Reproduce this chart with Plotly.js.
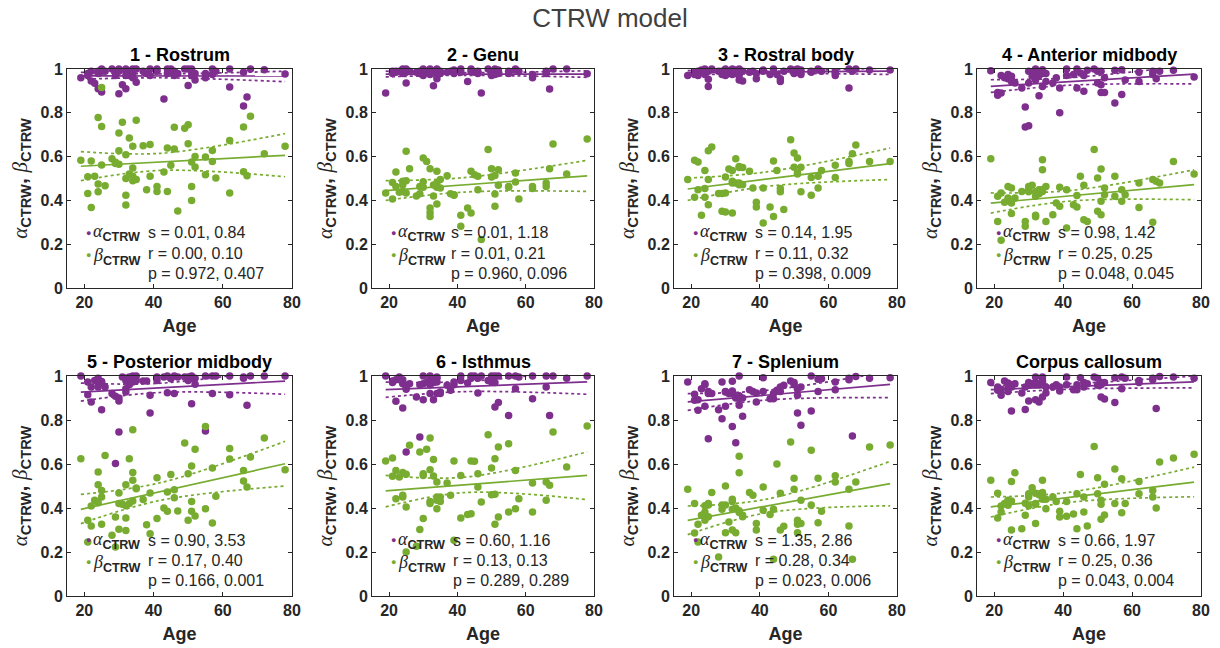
<!DOCTYPE html>
<html><head><meta charset="utf-8">
<script src="https://cdn.plot.ly/plotly-3.0.1.min.js"></script>
<style>body{margin:0;background:#fff}#chart{width:1220px;height:648px}</style>
</head><body><div id="chart"></div>
<script>
// ---- data ----
const ages = [19,21,21,22,22,23,24,24,24,25,25,25,26,28,29,29,30,30,30,31,32,32,32,32,33,33,34,34,34,34,35,35,37,38,39,39,41,41,43,44,44,45,46,46,47,49,50,50,51,51,51,52,52,55,55,57,57,58,62,62,66,66,67,68,72,78];

const alpha1 = [0.96, 0.98,0.97, 0.945,0.99, 0.935, 0.91,0.99,0.98, 0.895,0.99,1.0, 0.99, 1.0, 0.99,0.97, 0.887,0.99,1.0, 0.928, 0.91,0.99,0.97,1.0, 0.97,0.99, 1.0,0.98,0.96,0.99, 0.94,1.0, 0.99, 0.98, 1.0,0.97, 0.99,1.0, 0.863, 1.0,0.98, 1.0, 0.99,0.97, 0.98, 1.0, 0.925,1.0, 0.99,0.97,1.0, 0.95,0.98, 0.96,0.98, 1.0,0.975, 0.99, 0.918,1.0, 0.831,0.985, 0.872, 1.0, 0.997, 0.977];
const beta1 = [0.583, 0.508,0.432, 0.368,0.58, 0.51, 0.779,0.475,0.44, 0.737,0.562,0.916, 0.467, 0.59, 0.574,0.568, 0.708,0.627,0.565, 0.757, 0.609,0.5,0.423,0.379, 0.685,0.52, 0.647,0.548,0.51,0.49, 0.766,0.495, 0.65, 0.449, 0.655,0.51, 0.464,0.441, 0.53, 0.639,0.441, 0.56, 0.734,0.635, 0.352, 0.73, 0.746,0.659, 0.575,0.464,0.4, 0.601,0.552, 0.598,0.517, 0.628,0.578, 0.502, 0.674,0.434, 0.735,0.531, 0.513, 0.784, 0.613, 0.647];

const alpha2 = [0.89, 0.98,0.99, 0.99,0.985, 0.99, 0.98,1.0,0.99, 0.936,0.985,1.0, 0.99, 0.985, 0.99,0.98, 1.0,0.985,0.97, 0.99, 1.0,0.98,0.995,0.975, 0.924,0.99, 0.955,1.0,0.985,0.97, 0.99,0.98, 0.985, 0.99, 0.98,0.995, 1.0,0.985, 0.943, 0.99,1.0, 0.985, 0.98,0.99, 0.89, 1.0, 0.985,0.97, 1.0,0.99,0.975, 0.995,0.98, 0.98,0.99, 1.0,0.995, 0.99, 0.96,0.975, 0.98,0.99, 0.909, 1.0, 1.0, 0.978];
const beta2 = [0.434, 0.406,0.482, 0.53,0.464, 0.437, 0.487,0.441,0.47, 0.624,0.434,0.49, 0.545, 0.42, 0.464,0.43, 0.594,0.485,0.46, 0.578, 0.545,0.365,0.345,0.327, 0.42,0.47, 0.479,0.384,0.533,0.46, 0.457,0.495, 0.513, 0.43, 0.426,0.423, 0.332,0.282, 0.365, 0.342,0.533, 0.517, 0.51,0.449, 0.221, 0.632, 0.507,0.545, 0.514,0.429,0.373, 0.54,0.469, 0.464,0.46, 0.525,0.484, 0.406, 0.454,0.464, 0.479,0.464, 0.545, 0.658, 0.52, 0.68];

const alpha3 = [0.97, 0.985,0.975, 0.99,0.97, 0.995, 0.98,1.0,0.975, 0.92,0.953,0.99, 1.0, 0.99, 0.975,0.99, 0.985,1.0,0.97, 0.98, 1.0,0.99,0.975,0.985, 0.995,0.98, 0.95,0.99,1.0,0.97, 0.945,0.99, 0.985, 0.99, 0.955,0.98, 0.995,0.99, 0.975, 1.0,0.99, 0.975, 0.943,0.955, 0.99, 1.0, 0.995,0.98, 1.0,0.99,0.985, 0.975,0.995, 0.985,0.99, 1.0,0.995, 0.99, 0.97,0.985, 0.913,1.0, 0.99, 1.0, 0.995, 0.995];
const beta3 = [0.495, 0.583,0.414, 0.575,0.449, 0.332, 0.536,0.454,0.414, 0.627,0.495,0.38, 0.644, 0.431, 0.35,0.431, 0.347,0.434,0.507, 0.543, 0.342,0.487,0.536,0.48, 0.59,0.479, 0.55,0.472,0.555,0.48, 0.55,0.472, 0.533, 0.457, 0.391,0.37, 0.297,0.457, 0.37, 0.327,0.58, 0.536, 0.454,0.44, 0.358, 0.677, 0.616,0.551, 0.594,0.525,0.52, 0.551,0.44, 0.505,0.423, 0.51,0.457, 0.536, 0.56,0.505, 0.578,0.568, 0.613, 0.653, 0.578, 0.578];

const alpha4 = [0.992, 0.893,0.88, 0.89,0.97, 0.96, 0.975,0.955,0.97, 0.967,0.943,0.95, 0.936, 0.913, 0.826,0.735, 0.741,0.936,0.99, 0.967, 1.0,0.96,0.95,0.985, 0.878,0.97, 0.92,0.997,0.98,0.99, 0.98,0.943, 0.936, 0.96, 0.8,0.913, 1.0,0.97, 0.975, 1.0,0.913, 0.982, 0.898,0.97, 0.994, 1.0, 0.99,0.936, 0.893,0.928,0.99, 0.893,0.96, 0.845,0.994, 0.883,0.997, 0.95, 0.943,0.985, 0.99,0.975, 0.955, 0.99, 0.994, 0.963];
const beta4 = [0.59, 0.304,0.419, 0.434,0.218, 0.391, 0.464,0.411,0.40, 0.457,0.388,0.34, 0.411, 0.441, 0.304,0.282, 0.464,0.44,0.45, 0.469, 0.332,0.419,0.44,0.325, 0.449,0.43, 0.441,0.586,0.54,0.45, 0.464,0.304, 0.335, 0.388, 0.46,0.373, 0.274,0.449, 0.38, 0.422,0.37, 0.51, 0.469,0.312, 0.304, 0.632, 0.502,0.35, 0.335,0.543,0.396, 0.457,0.426, 0.51,0.419, 0.449,0.396, 0.426, 0.48,0.368, 0.495,0.3, 0.487, 0.48, 0.578, 0.52];

const alpha5 = [1.0, 0.973,0.915, 0.95,0.882, 0.98, 0.973,0.95,0.99, 0.968,0.847,0.975, 0.95, 0.92, 0.908,0.602, 0.886,0.9,0.745, 0.995, 0.942,0.927,0.99,0.98, 0.995,0.96, 1.0,0.973,0.99,0.98, 1.0,0.98, 0.977, 0.977, 0.832,0.912, 0.995,0.98, 0.995, 0.924,1.0, 0.988, 0.92,1.0, 0.995, 0.995, 0.995,0.98, 0.874,1.0,0.99, 0.962,0.99, 0.75,1.0, 0.92,1.0, 1.0, 0.915,1.0, 0.995,0.99, 0.867, 1.0, 1.0, 1.0];
const beta5 = [0.624, 0.344,0.245, 0.409,0.318, 0.435, 0.564,0.506,0.424, 0.48,0.45,0.326, 0.639, 0.276, 0.359,0.223, 0.468,0.42,0.303, 0.417, 0.506,0.355,0.298,0.41, 0.624,0.42, 0.756,0.561,0.526,0.432, 0.491,0.488, 0.439, 0.324, 0.468,0.283, 0.538,0.352, 0.4, 0.385,0.473, 0.552, 0.483,0.447, 0.386, 0.695, 0.556,0.344, 0.591,0.43,0.385, 0.667,0.364, 0.771,0.397, 0.582,0.332, 0.453, 0.67,0.623, 0.571,0.523, 0.495, 0.632, 0.718, 0.574];

const alpha6 = [1.0, 0.977,0.97, 0.983,0.885, 0.995, 0.965,0.983,0.855, 0.94,0.655,0.95, 0.965, 0.905, 0.723,0.96, 1.0,0.892,0.965, 0.97, 1.0,0.92,0.99,0.96, 0.892,0.97, 0.995,0.973,0.92,0.99, 0.927,0.92, 0.958, 0.935, 0.973,0.96, 1.0,0.98, 0.968, 1.0,0.99, 1.0, 0.923,0.99, 1.0, 0.98, 0.973,1.0, 0.859,1.0,0.97, 0.879,1.0, 0.821,1.0, 0.942,1.0, 0.995, 0.897,1.0, 0.95,1.0, 0.821, 1.0, 0.99, 1.0];
const beta6 = [0.614, 0.627,0.544, 0.57,0.442, 0.541, 0.561,0.458,0.45, 0.553,0.405,0.2, 0.685, 0.226, 0.655,0.302, 0.352,0.556,0.548, 0.667, 0.718,0.43,0.574,0.42, 0.62,0.545, 0.518,0.397,0.435,0.45, 0.45,0.43, 0.514, 0.458, 0.614,0.253, 0.548,0.355, 0.37, 0.374,0.614, 0.612, 0.495,0.556, 0.427, 0.733, 0.582,0.46, 0.462,0.326,0.624, 0.677,0.359, 0.692,0.382, 0.57,0.397, 0.442, 0.514,0.382, 0.518,0.435, 0.503, 0.745, 0.586, 0.773];

const alpha7 = [0.973, 0.917,0.89, 0.844,0.892, 0.942, 0.965,0.862,0.96, 0.715,0.92,0.93, 0.92, 0.847, 0.806,0.973, 0.927,0.862,0.93, 0.92, 0.771,0.932,0.976,0.92, 0.697,0.9, 1.0,0.867,0.897,0.91, 0.817,0.9, 0.938, 0.93, 0.882,0.923, 0.992,0.93, 0.897, 0.897,0.92, 0.935, 0.95,0.93, 0.958, 0.977, 0.96,0.97, 0.832,0.912,0.94, 0.776,0.95, 0.841,1.0, 0.93,0.985, 0.988, 0.973,0.938, 0.983,0.99, 0.727, 0.998, 0.99, 0.992];
const beta7 = [0.485, 0.42,0.286, 0.326,0.245, 0.367, 0.382,0.344,0.41, 0.414,0.42,0.36, 0.47, 0.177, 0.414,0.394, 0.5,0.288,0.414, 0.336, 0.394,0.3,0.44,0.43, 0.288,0.4, 0.635,0.56,0.387,0.38, 0.367,0.36, 0.47, 0.458, 0.33,0.3, 0.495,0.39, 0.37, 0.394,0.167, 0.6, 0.467,0.3, 0.317, 0.7, 0.535,0.485, 0.344,0.326,0.288, 0.435,0.33, 0.662,0.414, 0.535,0.333, 0.385, 0.547,0.518, 0.485,0.318, 0.167, 0.518, 0.677, 0.686];

const alpha8 = [0.97, 0.935,0.95, 0.912,0.94, 0.977, 0.968,0.93,0.95, 0.95,0.841,0.96, 0.965, 0.923, 0.848,0.95, 0.886,0.958,0.97, 0.965, 0.995,0.892,0.97,0.96, 0.882,0.96, 0.995,0.905,0.97,0.98, 0.923,0.95, 0.95, 0.96, 0.932,0.95, 0.995,0.96, 0.938, 0.938,0.96, 0.992, 0.95,0.97, 0.965, 0.995, 0.99,0.958, 0.905,0.97,0.96, 0.895,0.97, 0.88,0.992, 0.995,0.942, 0.99, 0.98,0.97, 0.983,0.99, 0.852, 0.998, 0.995, 0.99];
const beta8 = [0.526, 0.467,0.355, 0.382,0.409, 0.42, 0.435,0.412,0.43, 0.52,0.432,0.3, 0.56, 0.306, 0.422,0.367, 0.465,0.41,0.45, 0.492, 0.467,0.33,0.417,0.42, 0.465,0.46, 0.526,0.47,0.44,0.46, 0.397,0.44, 0.45, 0.43, 0.359,0.385, 0.362,0.43, 0.373, 0.306,0.465, 0.552, 0.45,0.382, 0.318, 0.68, 0.538,0.465, 0.349,0.435,0.417, 0.508,0.368, 0.577,0.42, 0.533,0.378, 0.42, 0.52,0.465, 0.48,0.45, 0.4, 0.609, 0.627, 0.644];

const panelTitles = ['1 - Rostrum','2 - Genu','3 - Rostral body','4 - Anterior midbody','5 - Posterior midbody','6 - Isthmus','7 - Splenium','Corpus callosum'];
const statS = ['0.01, 0.84','0.01, 1.18','0.14, 1.95','0.98, 1.42','0.90, 3.53','0.60, 1.16','1.35, 2.86','0.66, 1.97'];
const statR = ['0.00, 0.10','0.01, 0.21','0.11, 0.32','0.25, 0.25','0.17, 0.40','0.13, 0.13','0.28, 0.34','0.25, 0.36'];
const statP = ['0.972, 0.407','0.960, 0.096','0.398, 0.009','0.048, 0.045','0.166, 0.001','0.289, 0.289','0.023, 0.006','0.043, 0.004'];

// regression lines (ends) and confidence bounds (ends + middle)
const fitX = [19, 78];
const ciX = [19, 42, 78];
const alphaFit = [[0.969,0.968],[0.977,0.977],[0.983,0.99],[0.921,0.977],[0.927,0.977],[0.938,0.973],[0.882,0.962],[0.938,0.973]];
const alphaUp  = [[0.985,0.978,0.99],[0.99,0.983,0.992],[0.993,0.99,1.005],[0.951,0.96,1.02],[0.968,0.967,1.037],[0.972,0.975,1.03],[0.92,0.935,1.022],[0.957,0.965,1.0]];
const alphaLo  = [[0.953,0.96,0.942],[0.964,0.971,0.962],[0.972,0.98,0.975],[0.893,0.926,0.932],[0.886,0.925,0.917],[0.903,0.929,0.917],[0.844,0.891,0.902],[0.92,0.94,0.946]];
const betaFit  = [[0.556,0.606],[0.445,0.512],[0.452,0.568],[0.388,0.472],[0.394,0.601],[0.478,0.548],[0.344,0.511],[0.405,0.518]];
const betaUp   = [[0.623,0.615,0.705],[0.49,0.504,0.583],[0.502,0.53,0.639],[0.434,0.445,0.54],[0.462,0.515,0.703],[0.548,0.54,0.655],[0.409,0.44,0.612],[0.45,0.472,0.586]];
const betaLo   = [[0.49,0.537,0.508],[0.40,0.438,0.441],[0.40,0.464,0.495],[0.342,0.397,0.403],[0.329,0.435,0.5],[0.405,0.47,0.438],[0.279,0.378,0.41],[0.359,0.426,0.451]];

const alphas = [alpha1,alpha2,alpha3,alpha4,alpha5,alpha6,alpha7,alpha8];
const betas = [beta1,beta2,beta3,beta4,beta5,beta6,beta7,beta8];

// ---- styling / layout ----
const W = 1220, H = 648;
const PURPLE = '#7E2F8E', GREEN = '#77AC30', INK = '#262626';
const SANS = 'Liberation Sans, Arial, Helvetica, sans-serif';
const colL = [67, 372, 674, 977], colR = [292, 594, 897, 1201];
const rowT = [69, 376], rowB = [288, 596];
const statOffX = [79, 77, 79, 79, 79, 79, 79, 79];

const greekA = "<span style='font-family:Liberation Serif,Times New Roman,serif;font-weight:normal'><i>α</i></span>";
const greekB = "<span style='font-family:Liberation Serif,Times New Roman,serif;font-weight:normal'><i>β</i></span>";
const ylabel = greekA + "<sub><b>CTRW</b></sub>, " + greekB + "<sub><b>CTRW</b></sub>";

const traces = [];
const layout = {
  width: W, height: H,
  margin: {l:0, r:0, t:0, b:0},
  paper_bgcolor: '#fff', plot_bgcolor: '#fff',
  showlegend: false,
  font: {family: SANS, color: INK},
  title: {text: 'CTRW model', x: 0.5, xanchor: 'center', y: 1 - 18/H, yanchor: 'middle',
          font: {size: 26, color: '#404040', family: SANS}},
  annotations: []
};

function P(px, py) { return {x: px / W, y: 1 - py / H, xref: 'paper', yref: 'paper'}; }

for (let i = 0; i < 8; i++) {
  const r = Math.floor(i / 4), c = i % 4;
  const sfx = i === 0 ? '' : String(i + 1);
  const xa = 'x' + sfx, ya = 'y' + sfx;
  const axStyle = {
    showline: true, linecolor: INK, linewidth: 1, mirror: 'ticks',
    ticks: 'inside', ticklen: 4, tickwidth: 1, tickcolor: INK,
    showgrid: false, zeroline: false, fixedrange: true,
    tickfont: {size: 16, family: SANS, color: INK, weight: 'bold'}
  };
  layout['xaxis' + sfx] = Object.assign({}, axStyle, {
    domain: [colL[c] / W, colR[c] / W], anchor: ya,
    range: [15, 80], tickvals: [20, 40, 60, 80],
    title: {text: 'Age', font: {size: 18, family: SANS, color: INK, weight: 'bold'}, standoff: 9}
  });
  layout['yaxis' + sfx] = Object.assign({}, axStyle, {
    domain: [1 - rowB[r] / H, 1 - rowT[r] / H], anchor: xa,
    range: [0, 1], tickvals: [0, 0.2, 0.4, 0.6, 0.8, 1], ticktext: ['0','0.2','0.4','0.6','0.8','1'],
    title: {text: ylabel, font: {size: 21, family: SANS, color: INK, weight: 'bold'}, standoff: 7}
  });

  // scatter points
  traces.push({type: 'scatter', mode: 'markers', x: ages, y: alphas[i], xaxis: xa, yaxis: ya,
    marker: {color: PURPLE, size: 7.5}, cliponaxis: false, hoverinfo: 'x+y'});
  traces.push({type: 'scatter', mode: 'markers', x: ages, y: betas[i], xaxis: xa, yaxis: ya,
    marker: {color: GREEN, size: 7.5}, cliponaxis: false, hoverinfo: 'x+y'});
  // fits and confidence bounds
  const series = [
    [fitX, alphaFit[i], PURPLE, 'solid', 'linear'],
    [ciX, alphaUp[i], PURPLE, 'dot', 'spline'],
    [ciX, alphaLo[i], PURPLE, 'dot', 'spline'],
    [fitX, betaFit[i], GREEN, 'solid', 'linear'],
    [ciX, betaUp[i], GREEN, 'dot', 'spline'],
    [ciX, betaLo[i], GREEN, 'dot', 'spline']
  ];
  series.forEach(s => traces.push({type: 'scatter', mode: 'lines', x: s[0], y: s[1], xaxis: xa, yaxis: ya,
    line: {color: s[2], dash: s[3], width: 1.7, shape: s[4]}, hoverinfo: 'skip'}));

  const L = colL[c], T = rowT[r], cx = (colL[c] + colR[c]) / 2;
  // panel title
  layout.annotations.push(Object.assign(P(cx, T - 14), {text: panelTitles[i], showarrow: false,
    xanchor: 'center', yanchor: 'middle', font: {size: 18, family: SANS, color: '#000', weight: 'bold'}}));
  // legend markers + labels
  layout.annotations.push(Object.assign(P(L + 21, T + 164), {text: '●', showarrow: false,
    xanchor: 'center', yanchor: 'middle', font: {size: 9, color: PURPLE}}));
  layout.annotations.push(Object.assign(P(L + 21, T + 186), {text: '●', showarrow: false,
    xanchor: 'center', yanchor: 'middle', font: {size: 9, color: GREEN}}));
  layout.annotations.push(Object.assign(P(L + 24, T + 164), {text: greekA + "<sub><b>CTRW</b></sub>", showarrow: false,
    xanchor: 'left', yanchor: 'middle', font: {size: 18, family: SANS, color: INK}}));
  layout.annotations.push(Object.assign(P(L + 24, T + 187), {text: greekB + "<sub><b>CTRW</b></sub>", showarrow: false,
    xanchor: 'left', yanchor: 'middle', font: {size: 18, family: SANS, color: INK}}));
  // stats
  const sx = L + statOffX[i];
  [['s = ' + statS[i], 164], ['r = ' + statR[i], 184], ['p = ' + statP[i], 204]].forEach(t => {
    layout.annotations.push(Object.assign(P(sx, T + t[1]), {text: t[0], showarrow: false,
      xanchor: 'left', yanchor: 'middle', font: {size: 16, family: SANS, color: INK}}));
  });
}

Plotly.newPlot('chart', traces, layout, {displayModeBar: false, staticPlot: true});
</script>
</body></html>
